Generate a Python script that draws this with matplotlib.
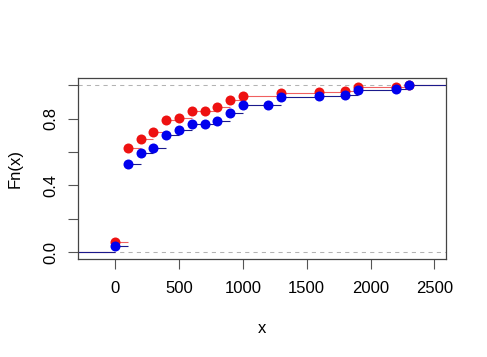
import matplotlib
matplotlib.use("Agg")
import matplotlib.pyplot as plt

# knots (x) and ecdf values
x_red = [0, 100, 200, 300, 400, 500, 600, 700, 800, 900, 1000, 1300, 1600, 1800, 1900, 2200, 2300]
y_red = [0.06, 0.624, 0.676, 0.722, 0.79, 0.804, 0.844, 0.846, 0.868, 0.908, 0.934,
         0.954, 0.958, 0.962, 0.988, 0.99, 1.0]
x_blue = [0, 100, 200, 300, 400, 500, 600, 700, 800, 900, 1000, 1200, 1300, 1600, 1800, 1900, 2200, 2300]
y_blue = [0.038, 0.526, 0.594, 0.624, 0.70, 0.732, 0.768, 0.768, 0.784, 0.832, 0.878, 0.878,
          0.926, 0.936, 0.938, 0.97, 0.976, 1.0]

xticks = [0, 500, 1000, 1500, 2000, 2500]
yticks = [0.0, 0.2, 0.4, 0.6, 0.8, 1.0]
ylabels = ["0.0", "", "0.4", "", "0.8", ""]

plt.rcParams['font.family'] = ['Liberation Sans', 'DejaVu Sans']

fig = plt.figure(figsize=(4.87, 3.57), dpi=100)
ax = fig.add_axes([0.160, 0.2745, 0.756, 0.506])
xlo, xhi = -291, 2591
ax.set_xlim(xlo, xhi)
ax.set_ylim(-0.04, 1.04)

# grey dashed lines at 0 and 1
for h in (0, 1):
    ax.axhline(h, color='#B3B3B3', lw=0.75, ls=(0, (4, 4)), zorder=1)


def step(xs, ys, line_col, pt_col):
    ax.hlines(0, xlo, xs[0], color=line_col, lw=0.8, zorder=2)
    ends = xs[1:] + [xhi]
    ax.hlines(ys, xs, ends, color=line_col, lw=0.8, zorder=2)
    ax.plot(xs, ys, 'o', color=pt_col, ms=7.2, mec='none', zorder=3)


step(x_red, y_red, '#F06060', '#EE1111')
step(x_blue, y_blue, '#1A1A8C', '#0000EE')

ax.set_xticks(xticks)
ax.set_yticks(yticks)
ax.set_yticklabels(ylabels, rotation=90, va='center')
ax.tick_params(direction='out', length=7, width=0.8, labelsize=12, colors='#555555',
               labelcolor='black')
ax.tick_params(axis='x', pad=9)
ax.tick_params(axis='y', pad=7)
for s in ax.spines.values():
    s.set_color('#444444')
    s.set_linewidth(0.9)

ax.set_xlabel('x', fontsize=12, labelpad=18)
ax.set_ylabel('Fn(x)', fontsize=12, labelpad=15)

fig.savefig('out.png', dpi=100)
